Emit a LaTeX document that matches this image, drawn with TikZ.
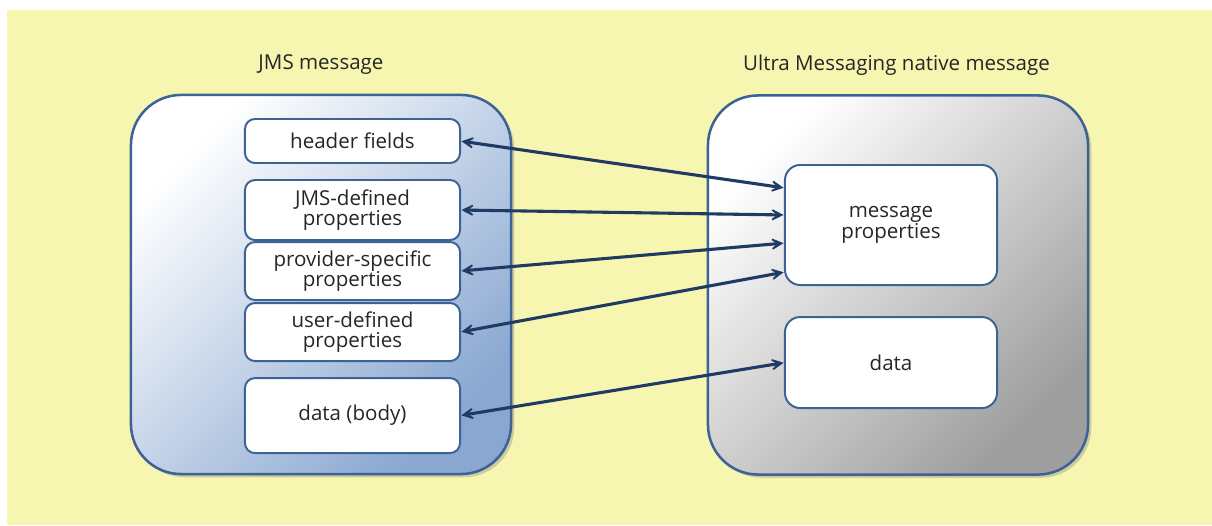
\documentclass[tikz,border=0pt]{standalone}
\usepackage{fontspec}
\setmainfont{Open Sans}
\usepackage{tikz}
\usetikzlibrary{arrows.meta, positioning, shadows}

\definecolor{bgyellow}{HTML}{F6F6B1}
\definecolor{frameblue}{HTML}{3D6394}
\definecolor{arrownavy}{HTML}{1F3B63}
\definecolor{jmsblue}{HTML}{89A7D1}
\definecolor{umgray}{HTML}{9E9E9E}
\definecolor{textgray}{HTML}{262626}

\begin{document}
\begin{tikzpicture}[<->, >={Stealth[length=4.6mm,width=4.6mm,inset=3mm]}, x=0.025cm, y=-0.025cm, node distance=0.425cm, font=\fontsize{14.6}{14.6}\selectfont, text=textgray]
\tikzstyle{outer}=[draw=frameblue, line width=1.8pt, rounded corners=1.25cm, minimum width=9.5cm, minimum height=9.475cm, drop shadow={shadow xshift=0.08cm, shadow yshift=-0.08cm, opacity=0.35}]
\tikzstyle{field}=[draw=frameblue, line width=1.4pt, fill=white, rounded corners=0.25cm, minimum width=5.375cm, align=center, inner sep=0pt, outer sep=0pt]
\tikzstyle{target}=[field, rounded corners=0.38cm, minimum width=5.3cm]
\tikzstyle{link}=[draw=arrownavy, line width=2.2pt, shorten <=1pt, shorten >=1pt]

% background and page size
\useasboundingbox (0,0) rectangle (1212,526);
\fill[bgyellow] (7,10) rectangle (1212,525);

% the two messages
\node[outer, top color=white, bottom color=jmsblue, shading angle=45] (jms) at (321,284.5) {};
\node[outer, top color=white, bottom color=umgray, shading angle=45] (um) at (898,285) {};
\node (jmstitle) at (321,65) {JMS message};
\node (umtitle) at (896.5,65) {Ultra Messaging native message};

% JMS side
\node[field, minimum height=1.1cm] (header) at (352.5,141) {header fields};
\node[field, minimum height=1.5cm] (jmsprop) [below=0.425cm of header] {JMS-defined\\properties};
\node[field, minimum height=1.45cm] (provprop) [below=0.05cm of jmsprop] {provider-specific\\properties};
\node[field, minimum height=1.45cm] (userprop) [below=0.075cm of provprop] {user-defined\\properties};
\node[field, minimum height=1.875cm] (body) [below=of userprop] {data (body)};

% UM side
\node[target, minimum height=3cm] (msgprop) at (891,225) {message\\properties};
\node[target, minimum height=2.275cm] (data) [below=0.8cm of msgprop] {data};

\draw[link] (header.east) -- ([yshift=0.925cm]msgprop.west);
\draw[link] (jmsprop.east) -- ([yshift=0.25cm]msgprop.west);
\draw[link] (provprop.east) -- ([yshift=-0.45cm]msgprop.west);
\draw[link] (userprop.east) -- ([yshift=-1.175cm]msgprop.west);
\draw[link] (body.east) -- (data.west);
\end{tikzpicture}
\end{document}
